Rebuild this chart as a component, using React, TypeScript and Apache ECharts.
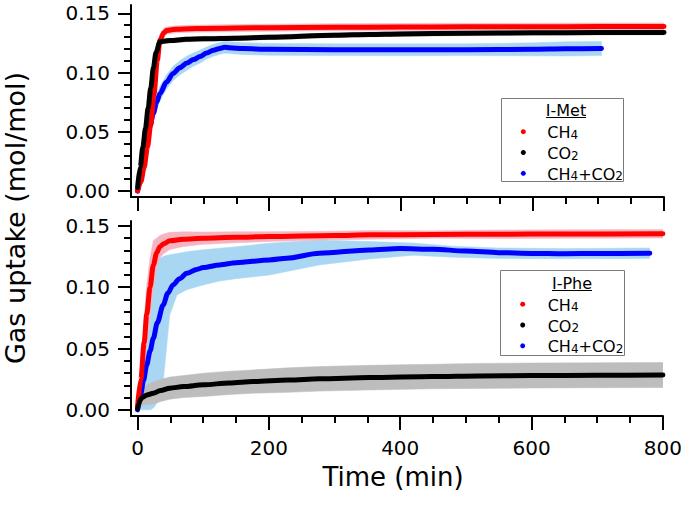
import React, { useEffect, useRef } from 'react';
import * as echarts from 'echarts';

// ---------- Data ----------
// Top panel: I-Met
const topCH4Time = [0, 5, 10, 15, 20, 25, 30, 34, 40, 44, 50, 60, 80, 100, 200, 300, 400, 500, 600, 700, 800];
const topCH4Value = [0.0, 0.008, 0.02, 0.037, 0.056, 0.082, 0.11, 0.1274, 0.1335, 0.1355, 0.136, 0.1365, 0.137, 0.1372, 0.1378, 0.1382, 0.1384, 0.1386, 0.1387, 0.1388, 0.1389];
const topCH4Err = [0.001, 0.004, 0.006, 0.008, 0.008, 0.008, 0.007, 0.005, 0.004, 0.003, 0.003, 0.003, 0.003, 0.003, 0.003, 0.003, 0.003, 0.003, 0.003, 0.003, 0.003];

const topCO2Time = [0, 4, 8, 12, 16, 20, 24, 28, 34, 40, 50, 74, 100, 150, 200, 300, 353, 400, 500, 600, 700, 800];
const topCO2Value = [0.003, 0.02, 0.037, 0.053, 0.07, 0.087, 0.104, 0.117, 0.126, 0.1265, 0.127, 0.128, 0.1285, 0.129, 0.1298, 0.1315, 0.1322, 0.1326, 0.1331, 0.1335, 0.1337, 0.1339];
const topCO2Err = [0.001, 0.005, 0.006, 0.006, 0.006, 0.006, 0.006, 0.005, 0.003, 0.002, 0.002, 0.002, 0.002, 0.002, 0.002, 0.002, 0.002, 0.002, 0.002, 0.002, 0.002, 0.002];

const topMixTime = [0, 4, 9, 14, 19, 24, 29, 34, 44, 54, 64, 75, 85, 95, 105, 115, 125, 132, 140, 160, 200, 300, 400, 500, 600, 650, 705];
const topMixValue = [0.0, 0.009, 0.027, 0.043, 0.055, 0.0656, 0.075, 0.0824, 0.092, 0.0993, 0.104, 0.108, 0.111, 0.1135, 0.1165, 0.1188, 0.1204, 0.1213, 0.121, 0.1202, 0.1196, 0.1193, 0.1192, 0.1193, 0.1196, 0.12, 0.1203];
const topMixErr = [0.001, 0.003, 0.005, 0.006, 0.006, 0.006, 0.006, 0.006, 0.006, 0.006, 0.006, 0.006, 0.0055, 0.0055, 0.005, 0.005, 0.005, 0.005, 0.005, 0.005, 0.005, 0.005, 0.005, 0.005, 0.0055, 0.006, 0.006];

// Bottom panel: I-Phe
const botCH4Time = [0, 5, 10, 14, 19, 24, 29, 34, 40, 49, 70, 100, 150, 200, 300, 353, 450, 550, 650, 800];
const botCH4Value = [0.003, 0.025, 0.055, 0.078, 0.1, 0.118, 0.128, 0.1331, 0.1355, 0.1378, 0.1392, 0.14, 0.1408, 0.1413, 0.1422, 0.1427, 0.143, 0.1432, 0.1434, 0.1436];
const botCH4Err = [0.002, 0.01, 0.02, 0.024, 0.024, 0.02, 0.012, 0.009, 0.008, 0.007, 0.006, 0.005, 0.0045, 0.004, 0.0035, 0.0035, 0.003, 0.0035, 0.0035, 0.0035];

const botCO2Time = [0, 2, 4, 8, 14, 24, 35, 49, 70, 100, 140, 176, 230, 277, 353, 450, 520, 600, 700, 800];
const botCO2Value = [0.001, 0.005, 0.0082, 0.0105, 0.0122, 0.0136, 0.0158, 0.0177, 0.019, 0.0204, 0.022, 0.0231, 0.0243, 0.0253, 0.0263, 0.0272, 0.0277, 0.028, 0.0282, 0.0284];
const botCO2Err = [0.001, 0.003, 0.005, 0.007, 0.008, 0.009, 0.009, 0.009, 0.009, 0.0095, 0.0095, 0.0095, 0.01, 0.01, 0.01, 0.01, 0.0102, 0.0102, 0.0102, 0.0102];

const botMixTime = [0, 5, 9, 14, 19, 24, 30, 39, 46, 54, 64, 75, 90, 100, 125, 150, 201, 227, 277, 353, 400, 450, 500, 550, 600, 650, 700, 780];
const botMixValue = [0.0, 0.013, 0.024, 0.0367, 0.048, 0.0584, 0.071, 0.0856, 0.095, 0.1019, 0.107, 0.1114, 0.1145, 0.116, 0.1182, 0.12, 0.1223, 0.1237, 0.1277, 0.1304, 0.1315, 0.131, 0.1295, 0.1282, 0.1276, 0.1273, 0.1275, 0.1278];
const botMixBandTime = [0, 5, 10, 15, 20, 25, 30, 35, 39, 44, 49, 60, 75, 100, 125, 150, 201, 277, 353, 420, 480, 550, 650, 780];
const botMixBandLow = [0, 0, 0, 0, 0, 0.002, 0.006, 0.014, 0.023, 0.05, 0.0774, 0.0937, 0.098, 0.1019, 0.105, 0.107, 0.11, 0.1182, 0.123, 0.126, 0.1245, 0.1235, 0.1232, 0.1235];
const botMixBandHigh = [0.004, 0.03, 0.07, 0.1, 0.115, 0.118, 0.122, 0.124, 0.125, 0.126, 0.1264, 0.1275, 0.129, 0.1305, 0.1318, 0.133, 0.1359, 0.1386, 0.1372, 0.136, 0.1335, 0.132, 0.1315, 0.132];

// Axis ticks / labels
const xMajorTicks = [0, 200, 400, 600, 800];
const xMinorTicks = [50, 100, 150, 250, 300, 350, 450, 500, 550, 650, 700, 750];
const yMajorTicks = [0, 0.05, 0.1, 0.15];
const yMinorTicks = [0.01, 0.02, 0.03, 0.04, 0.06, 0.07, 0.08, 0.09, 0.11, 0.12, 0.13, 0.14];

const seriesNames = ['CH4', 'CO2', 'CH4+CO2'];
const panelTitles = ['I-Met', 'I-Phe'];

// ---------- Styling ----------
const FONT = '"DejaVu Sans", sans-serif';
const RED = '#ff0000';
const BLACK = '#000000';
const BLUE = '#0000ff';
const PINK = '#f5b5c0';
const GRAY = '#bdbdbd';
const LIGHTBLUE = '#a9d7f3';

function pairs(t: number[], v: number[]) {
  return t.map((x, i) => [x, v[i]]);
}

function bandSeries(xi: number, yi: number, t: number[], lo: number[], hi: number[], color: string) {
  return {
    type: 'custom',
    xAxisIndex: xi,
    yAxisIndex: yi,
    silent: true,
    clip: true,
    z: 1,
    data: t.map((x, i) => [x, lo[i], hi[i]]),
    encode: { x: 0, y: [1, 2] },
    renderItem: (params: any, api: any) => {
      if (params.dataIndex !== 0) return { type: 'group', children: [] };
      const up = t.map((x, i) => api.coord([x, hi[i]]));
      const dn = t.map((x, i) => api.coord([x, lo[i]])).reverse();
      return {
        type: 'polygon',
        shape: { points: up.concat(dn) },
        style: { fill: color, stroke: color, lineWidth: 0.5 },
      };
    },
  };
}

function errBand(xi: number, yi: number, t: number[], v: number[], e: number[], color: string) {
  return bandSeries(
    xi,
    yi,
    t,
    v.map((y, i) => y - e[i]),
    v.map((y, i) => y + e[i]),
    color
  );
}

function lineSeries(name: string, xi: number, yi: number, t: number[], v: number[], color: string) {
  return {
    name,
    type: 'line',
    xAxisIndex: xi,
    yAxisIndex: yi,
    data: pairs(t, v),
    showSymbol: false,
    symbol: 'none',
    smooth: 0.3,
    smoothMonotone: 'x',
    silent: true,
    z: 3,
    lineStyle: { color, width: 5, cap: 'round', join: 'round' },
    itemStyle: { color },
  };
}

function xAxes(gridIndex: number, showLabels: boolean) {
  return [
    {
      type: 'value',
      gridIndex,
      min: -10,
      max: 800,
      position: 'bottom',
      axisLine: { show: true, onZero: false, lineStyle: { color: '#000', width: 2 } },
      axisTick: { show: true, inside: false, length: 14, customValues: xMajorTicks, lineStyle: { color: '#000', width: 2 } },
      axisLabel: {
        show: showLabels,
        customValues: xMajorTicks,
        fontSize: 20,
        fontFamily: FONT,
        color: '#000',
        margin: 22,
      },
      splitLine: { show: false },
    },
    {
      type: 'value',
      gridIndex,
      min: -10,
      max: 800,
      position: 'bottom',
      offset: 0,
      axisLine: { show: false, onZero: false },
      axisTick: { show: true, inside: false, length: 7, customValues: xMinorTicks, lineStyle: { color: '#000', width: 2 } },
      axisLabel: { show: false },
      splitLine: { show: false },
    },
  ];
}

function yAxes(gridIndex: number, min: number, max: number) {
  return [
    {
      type: 'value',
      gridIndex,
      min,
      max,
      position: 'left',
      axisLine: { show: true, onZero: false, lineStyle: { color: '#000', width: 2 } },
      axisTick: { show: true, inside: false, length: 13, customValues: yMajorTicks, lineStyle: { color: '#000', width: 2 } },
      axisLabel: {
        show: true,
        customValues: yMajorTicks,
        formatter: (v: number) => v.toFixed(2),
        fontSize: 20,
        fontFamily: FONT,
        color: '#000',
        margin: 21,
      },
      splitLine: { show: false },
    },
    {
      type: 'value',
      gridIndex,
      min,
      max,
      position: 'left',
      offset: 0,
      axisLine: { show: false, onZero: false },
      axisTick: { show: true, inside: false, length: 7, customValues: yMinorTicks, lineStyle: { color: '#000', width: 2 } },
      axisLabel: { show: false },
      splitLine: { show: false },
    },
  ];
}

const richStyles = {
  n: { fontSize: 16, fontFamily: FONT, fill: '#000', color: '#000', lineHeight: 18, verticalAlign: 'bottom' },
  s: { fontSize: 12, fontFamily: FONT, fill: '#000', color: '#000', lineHeight: 12, verticalAlign: 'bottom' },
};

function chemRich(name: string) {
  // digits become subscripts
  return name.replace(/([A-Z]+)(\d)/g, '{n|$1}{s|$2}').replace(/\+/g, '{n|+}');
}

function legendGraphic(
  box: { x: number; y: number; w: number; h: number },
  title: string,
  titleX: number,
  titleY: number,
  rowsY: number[],
  dotX: number,
  textX: number
) {
  const colors = [RED, BLACK, BLUE];
  const children: any[] = [
    {
      type: 'rect',
      shape: { x: box.x, y: box.y, width: box.w, height: box.h },
      style: { fill: '#fff', stroke: '#7a7a7a', lineWidth: 1 },
      z: 10,
    },
    {
      type: 'text',
      x: titleX,
      y: titleY,
      z: 11,
      style: {
        text: title,
        x: 0,
        y: 0,
        font: '16px ' + FONT,
        fontSize: 16,
        fontFamily: FONT,
        fill: '#000',
        align: 'center',
        textAlign: 'center',
        verticalAlign: 'middle',
        textVerticalAlign: 'middle',
      },
    },
    {
      type: 'line',
      z: 11,
      shape: { x1: titleX - 20, y1: titleY + 7, x2: titleX + 20, y2: titleY + 7 },
      style: { stroke: '#000', lineWidth: 1 },
    },
  ];
  seriesNames.forEach((nm, i) => {
    children.push({
      type: 'circle',
      z: 11,
      shape: { cx: dotX, cy: rowsY[i], r: 2.5 },
      style: { fill: colors[i] },
    });
    children.push({
      type: 'text',
      x: textX,
      y: rowsY[i],
      z: 11,
      style: {
        text: chemRich(nm),
        rich: richStyles,
        x: 0,
        y: 0,
        fill: '#000',
        align: 'left',
        textAlign: 'left',
        verticalAlign: 'middle',
        textVerticalAlign: 'middle',
      },
    });
  });
  return { type: 'group', children };
}

const option: any = {
  animation: false,
  backgroundColor: '#ffffff',
  grid: [
    { left: 131, width: 533, top: 5, height: 192, containLabel: false },
    { left: 131, width: 533, top: 221, height: 195, containLabel: false },
  ],
  xAxis: [...xAxes(0, false), ...xAxes(1, true)],
  yAxis: [...yAxes(0, -0.005, 0.157), ...yAxes(1, -0.005, 0.154)],
  series: [
    // top panel bands
    errBand(0, 0, topMixTime, topMixValue, topMixErr, LIGHTBLUE),
    errBand(0, 0, topCH4Time, topCH4Value, topCH4Err, PINK),
    errBand(0, 0, topCO2Time, topCO2Value, topCO2Err, GRAY),
    // top panel lines
    lineSeries('CH4+CO2', 0, 0, topMixTime, topMixValue, BLUE),
    lineSeries('CH4', 0, 0, topCH4Time, topCH4Value, RED),
    lineSeries('CO2', 0, 0, topCO2Time, topCO2Value, BLACK),
    // bottom panel bands
    bandSeries(2, 2, botMixBandTime, botMixBandLow, botMixBandHigh, LIGHTBLUE),
    errBand(2, 2, botCH4Time, botCH4Value, botCH4Err, PINK),
    errBand(2, 2, botCO2Time, botCO2Value, botCO2Err, GRAY),
    // bottom panel lines
    lineSeries('CH4+CO2', 2, 2, botMixTime, botMixValue, BLUE),
    lineSeries('CH4', 2, 2, botCH4Time, botCH4Value, RED),
    lineSeries('CO2', 2, 2, botCO2Time, botCO2Value, BLACK),
  ],
  graphic: [
    legendGraphic({ x: 501.5, y: 98.5, w: 122, h: 83 }, panelTitles[0], 566, 110.5, [131.7, 152.5, 173.3], 523.3, 547.3),
    legendGraphic({ x: 500.5, y: 270.5, w: 124, h: 85 }, panelTitles[1], 572, 283.5, [304.2, 325, 345.8], 522.7, 547.7),
    {
      type: 'text',
      x: 15,
      y: 218,
      rotation: Math.PI / 2,
      style: {
        text: 'Gas uptake (mol/mol)',
        x: 0,
        y: 0,
        font: '27px ' + FONT,
        fontSize: 27,
        fontFamily: FONT,
        fill: '#000',
        align: 'center',
        textAlign: 'center',
        verticalAlign: 'middle',
        textVerticalAlign: 'middle',
      },
    },
    {
      type: 'text',
      x: 393,
      y: 477,
      style: {
        text: 'Time (min)',
        x: 0,
        y: 0,
        font: '26px ' + FONT,
        fontSize: 26,
        fontFamily: FONT,
        fill: '#000',
        align: 'center',
        textAlign: 'center',
        verticalAlign: 'middle',
        textVerticalAlign: 'middle',
      },
    },
  ],
};

export default function App() {
  const ref = useRef<HTMLDivElement>(null);
  useEffect(() => {
    if (!ref.current) return;
    const chart = echarts.init(ref.current, null, { renderer: 'svg' });
    chart.setOption(option);
    return () => {
      chart.dispose();
    };
  }, []);
  return (
    <div
      ref={ref}
      style={{ position: 'fixed', left: 0, top: 0, width: 685, height: 506, background: '#fff' }}
    />
  );
}
